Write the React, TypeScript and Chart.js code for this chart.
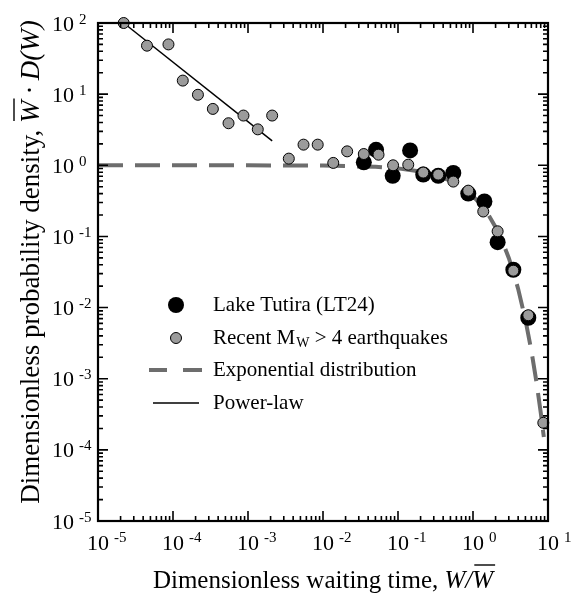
import React, { useEffect, useRef } from "react";
import { Chart, registerables } from "chart.js";

Chart.register(...registerables);

// Lake Tutira (LT24)
const lakeX = [0.035, 0.051, 0.085, 0.145, 0.217, 0.344, 0.546, 0.865, 1.42, 2.13, 3.45, 5.46];
const lakeY = [1.1, 1.65, 0.71, 1.62, 0.74, 0.71, 0.78, 0.4, 0.31, 0.083, 0.034, 0.0072];

// Recent Mw > 4 earthquakes
const quakeX = [
  2.2e-5, 4.5e-5, 8.7e-5, 1.35e-4, 2.15e-4, 3.4e-4, 5.5e-4, 8.7e-4, 1.35e-3, 2.1e-3,
  3.5e-3, 5.5e-3, 8.5e-3, 1.37e-2, 2.1e-2, 3.5e-2, 5.5e-2, 8.6e-2, 0.137, 0.217,
  0.344, 0.546, 0.865, 1.37, 2.13, 3.45, 5.46, 8.66,
];
const quakeY = [
  100, 48, 50, 15.5, 9.8, 6.2, 3.9, 5.0, 3.2, 5.0,
  1.24, 1.95, 1.95, 1.08, 1.57, 1.44, 1.41, 1.0, 1.02, 0.79,
  0.74, 0.59, 0.44, 0.224, 0.118, 0.033, 0.0078, 2.4e-4,
];

// Exponential distribution curve
const expX = [1e-5, 1e-3, 0.01, 0.05, 0.1, 0.2, 0.3, 0.5, 0.7, 1, 1.3, 1.6, 2, 2.5, 3, 3.5, 4, 5, 6, 7, 8, 8.8];
const expY = [1.0, 0.999, 0.99, 0.951, 0.905, 0.819, 0.741, 0.607, 0.497, 0.368, 0.273, 0.202, 0.135, 0.0821, 0.0498, 0.0302, 0.0183, 0.00674, 0.00248, 0.000912, 0.000335, 0.000151];

// Power-law line
const powerX = [2.2e-5, 2.1e-3];
const powerY = [100, 2.2];

const xTickExps = [-5, -4, -3, -2, -1, 0, 1];
const yTickExps = [-5, -4, -3, -2, -1, 0, 1, 2];

const legendLabels = ["Lake Tutira (LT24)", "Recent M", "W", " > 4 earthquakes", "Exponential distribution", "Power-law"];
const xTitleParts = ["Dimensionless waiting time, ", "W/W"];
const yTitleParts = ["Dimensionless probability density, ", "W", " \u00B7 D(W)"];

const SERIF = '"Liberation Serif", "DejaVu Serif", serif';
const GRAY_FILL = "#9b9b9b";
const DASH_COLOR = "#6d6d6d";

const toPts = (xs: number[], ys: number[]) => xs.map((x, i) => ({ x, y: ys[i] }));

const supText = (e: number) => (e < 0 ? "-" + Math.abs(e) : String(e));

const decorPlugin = {
  id: "decor",
  afterDraw(chart: any) {
    const ctx: CanvasRenderingContext2D = chart.ctx;
    const xs = chart.scales.x;
    const ys = chart.scales.y;
    const { left, right, top, bottom } = chart.chartArea;
    ctx.save();
    ctx.strokeStyle = "#000";
    ctx.fillStyle = "#000";

    // ticks
    ctx.lineWidth = 1.6;
    const majorLen = 10;
    const minorLen = 5;
    const xmin = Math.min(...xTickExps), xmax = Math.max(...xTickExps);
    for (let k = xmin; k <= xmax; k++) {
      for (let m = 1; m <= 9; m++) {
        const v = m * Math.pow(10, k);
        if (k === xmax && m > 1) break;
        const px = xs.getPixelForValue(v);
        const len = m === 1 ? majorLen : minorLen;
        ctx.beginPath();
        ctx.moveTo(px, bottom);
        ctx.lineTo(px, bottom - len);
        ctx.moveTo(px, top);
        ctx.lineTo(px, top + len);
        ctx.stroke();
      }
    }
    const ymin = Math.min(...yTickExps), ymax = Math.max(...yTickExps);
    for (let k = ymin; k <= ymax; k++) {
      for (let m = 1; m <= 9; m++) {
        const v = m * Math.pow(10, k);
        if (k === ymax && m > 1) break;
        const py = ys.getPixelForValue(v);
        const len = m === 1 ? majorLen : minorLen;
        ctx.beginPath();
        ctx.moveTo(left, py);
        ctx.lineTo(left + len, py);
        ctx.moveTo(right, py);
        ctx.lineTo(right - len, py);
        ctx.stroke();
      }
    }

    // frame
    ctx.lineWidth = 2.2;
    ctx.strokeRect(left, top, right - left, bottom - top);

    // x tick labels
    ctx.textBaseline = "alphabetic";
    for (const e of xTickExps) {
      const px = xs.getPixelForValue(Math.pow(10, e));
      ctx.font = `22px ${SERIF}`;
      const w = ctx.measureText("10").width;
      ctx.textAlign = "center";
      ctx.fillText("10", px, 550);
      ctx.textAlign = "left";
      ctx.font = `15px ${SERIF}`;
      ctx.fillText(supText(e), px + w / 2 + 5, 542);
    }
    // y tick labels
    for (const e of yTickExps) {
      const py = ys.getPixelForValue(Math.pow(10, e));
      ctx.font = `22px ${SERIF}`;
      const w = ctx.measureText("10").width;
      ctx.textAlign = "left";
      ctx.fillText("10", 52, py + 7.5);
      ctx.font = `15px ${SERIF}`;
      ctx.fillText(supText(e), 52 + w + 5, py + 0.5);
    }

    // x title
    {
      const fReg = `25px ${SERIF}`;
      const fIt = `italic 25px ${SERIF}`;
      ctx.font = fReg;
      const w1 = ctx.measureText(xTitleParts[0]).width;
      ctx.font = fIt;
      const w2 = ctx.measureText(xTitleParts[1]).width;
      const wLast = ctx.measureText("W").width;
      const cx = (left + right) / 2;
      const x0 = cx - (w1 + w2) / 2;
      const base = 588;
      ctx.textAlign = "left";
      ctx.font = fReg;
      ctx.fillText(xTitleParts[0], x0, base);
      ctx.font = fIt;
      ctx.fillText(xTitleParts[1], x0 + w1, base);
      ctx.lineWidth = 1.4;
      ctx.beginPath();
      const ox = x0 + w1 + w2 - wLast + 2;
      ctx.moveTo(ox, base - 23);
      ctx.lineTo(ox + wLast, base - 23);
      ctx.stroke();
    }

    // y title (rotated)
    {
      const fReg = `27px ${SERIF}`;
      const fIt = `italic 27px ${SERIF}`;
      ctx.font = fReg;
      const w1 = ctx.measureText(yTitleParts[0]).width;
      ctx.font = fIt;
      const w2 = ctx.measureText(yTitleParts[1]).width;
      const w3 = ctx.measureText(yTitleParts[2]).width;
      const total = w1 + w2 + w3;
      ctx.save();
      ctx.translate(39, 262);
      ctx.rotate(-Math.PI / 2);
      const x0 = -total / 2;
      ctx.textAlign = "left";
      ctx.font = fReg;
      ctx.fillText(yTitleParts[0], x0, 0);
      ctx.font = fIt;
      ctx.fillText(yTitleParts[1], x0 + w1, 0);
      ctx.fillText(yTitleParts[2], x0 + w1 + w2, 0);
      ctx.lineWidth = 1.4;
      ctx.beginPath();
      ctx.moveTo(x0 + w1 + 2, -25);
      ctx.lineTo(x0 + w1 + w2 + 2, -25);
      ctx.stroke();
      ctx.restore();
    }

    // legend
    {
      const mx = 176;
      const tx = 213;
      const rows = [305, 338, 370, 403];
      ctx.textBaseline = "middle";
      ctx.textAlign = "left";
      ctx.fillStyle = "#000";
      ctx.beginPath();
      ctx.arc(mx, rows[0], 8, 0, Math.PI * 2);
      ctx.fill();
      ctx.fillStyle = GRAY_FILL;
      ctx.strokeStyle = "#000";
      ctx.lineWidth = 1;
      ctx.beginPath();
      ctx.arc(mx, rows[1], 5.5, 0, Math.PI * 2);
      ctx.fill();
      ctx.stroke();
      ctx.strokeStyle = DASH_COLOR;
      ctx.lineWidth = 4;
      ctx.beginPath();
      ctx.moveTo(149, rows[2]);
      ctx.lineTo(167, rows[2]);
      ctx.moveTo(183, rows[2]);
      ctx.lineTo(202, rows[2]);
      ctx.stroke();
      ctx.strokeStyle = "#000";
      ctx.lineWidth = 1.5;
      ctx.beginPath();
      ctx.moveTo(153, rows[3]);
      ctx.lineTo(199, rows[3]);
      ctx.stroke();

      ctx.fillStyle = "#000";
      ctx.font = `21px ${SERIF}`;
      ctx.fillText(legendLabels[0], tx, rows[0]);
      ctx.fillText(legendLabels[1], tx, rows[1]);
      const wm = ctx.measureText(legendLabels[1]).width;
      ctx.font = `14px ${SERIF}`;
      ctx.fillText(legendLabels[2], tx + wm + 1, rows[1] + 5);
      const ws = ctx.measureText(legendLabels[2]).width;
      ctx.font = `21px ${SERIF}`;
      ctx.fillText(legendLabels[3], tx + wm + 1 + ws, rows[1]);
      ctx.fillText(legendLabels[4], tx, rows[2]);
      ctx.fillText(legendLabels[5], tx, rows[3]);
    }
    ctx.restore();
  },
};

export default function App() {
  const ref = useRef<HTMLCanvasElement | null>(null);
  useEffect(() => {
    if (!ref.current) return;
    const chart = new Chart(ref.current, {
      type: "scatter",
      data: {
        datasets: [
          {
            label: "Recent Mw > 4 earthquakes",
            data: toPts(quakeX, quakeY),
            backgroundColor: GRAY_FILL,
            borderColor: "#000",
            borderWidth: 1,
            pointRadius: 5.5,
            pointHoverRadius: 5.5,
            showLine: false,
            clip: false,
          } as any,
          {
            label: "Lake Tutira (LT24)",
            data: toPts(lakeX, lakeY),
            backgroundColor: "#000",
            borderColor: "#000",
            borderWidth: 0,
            pointRadius: 8,
            pointHoverRadius: 8,
            showLine: false,
            clip: false,
          } as any,
          {
            label: "Power-law",
            data: toPts(powerX, powerY),
            borderColor: "#000",
            borderWidth: 1.5,
            pointRadius: 0,
            showLine: true,
            fill: false,
            clip: false,
          } as any,
          {
            label: "Exponential distribution",
            data: toPts(expX, expY),
            borderColor: DASH_COLOR,
            borderWidth: 4,
            borderDash: [25, 12],
            borderCapStyle: "butt",
            pointRadius: 0,
            showLine: true,
            fill: false,
            tension: 0,
            clip: false,
          } as any,
        ],
      },
      options: {
        animation: false,
        responsive: false,
        devicePixelRatio: 1,
        layout: { padding: { left: 98, right: 29, top: 23, bottom: 73 } },
        plugins: { legend: { display: false }, tooltip: { enabled: false } },
        events: [],
        scales: {
          x: { type: "logarithmic", min: 1e-5, max: 10, display: false },
          y: { type: "logarithmic", min: 1e-5, max: 100, display: false },
        },
      },
      plugins: [decorPlugin],
    });
    return () => chart.destroy();
  }, []);
  return (
    <div style={{ position: "absolute", left: 0, top: 0, width: 577, height: 594, background: "#fff" }}>
      <canvas ref={ref} width={577} height={594} style={{ width: 577, height: 594, display: "block" }} />
    </div>
  );
}
